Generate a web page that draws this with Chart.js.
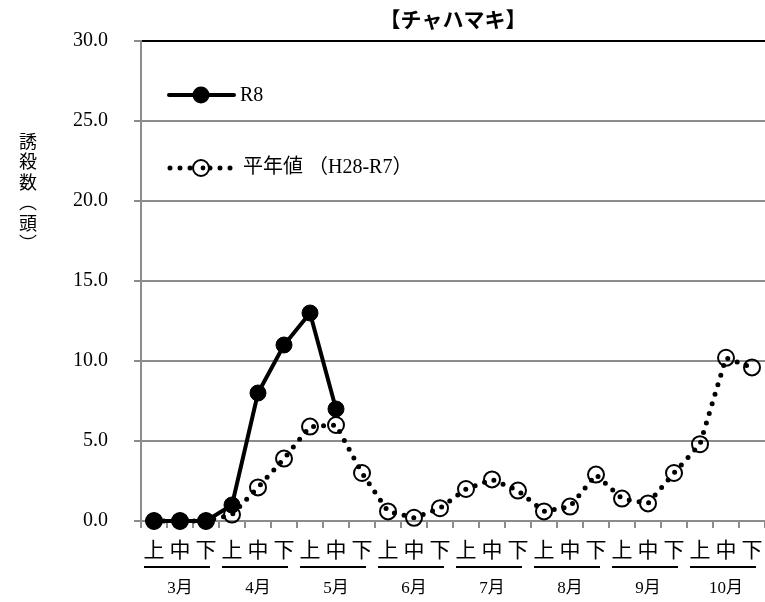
<!DOCTYPE html>
<html>
<head>
<meta charset="utf-8">
<script src="https://cdn.jsdelivr.net/npm/chart.js@4.4.1/dist/chart.umd.min.js"></script>
<style>
  body { margin: 0; background: #fff; }
</style>
</head>
<body>
<canvas id="trapChart" width="765" height="602"></canvas>
<script>
// data
const categories = ['上','中','下','上','中','下','上','中','下','上','中','下',
                    '上','中','下','上','中','下','上','中','下','上','中','下'];
const months = ['3月','4月','5月','6月','7月','8月','9月','10月'];
const r8 = [0, 0, 0, 1.0, 8.0, 11.0, 13.0, 7.0];
const normalYear = [0, 0, 0, 0.4, 2.1, 3.9, 5.9, 6.0, 3.0, 0.6, 0.2, 0.8,
                    2.0, 2.6, 1.9, 0.6, 0.9, 2.9, 1.4, 1.1, 3.0, 4.8, 10.2, 9.6];
const yTicks = [0, 5, 10, 15, 20, 25, 30];
const yTitle = ['誘','殺','数','︵','頭','︶'];

const GRID = '#8c8c8c';
const SERIF = "'Liberation Serif', 'Noto Sans CJK JP', serif";
const JP = "'Noto Sans CJK JP', sans-serif";

const monthLabels = categories.map((c, i) => i % 3 === 1 ? months[(i - 1) / 3] : '');

// category axes: no extra side padding for the outer labels
function noSidePadding(s, h) {
    s.height = h;
    s.paddingLeft = 0;
    s.paddingRight = 0;
}

// legend, vertical y title and month underlines
const decorations = {
    id: 'decorations',
    afterDraw(chart) {
        const c = chart.ctx;
        const xs = chart.scales.x;
        c.save();

        // underline under each 上中下 group
        const catW = (xs.right - xs.left) / categories.length;
        c.strokeStyle = '#000';
        c.lineWidth = 2;
        for (let g = 0; g < months.length; g++) {
            const x0 = xs.left + g * 3 * catW + 3;
            c.beginPath();
            c.moveTo(x0, 567);
            c.lineTo(x0 + 3 * catW - 12, 567);
            c.stroke();
        }

        // y-axis title, stacked characters
        c.fillStyle = '#000';
        c.font = '18px ' + JP;
        c.textAlign = 'center';
        c.textBaseline = 'middle';
        yTitle.forEach((ch, i) => c.fillText(ch, 28, 141 + i * 20.5));

        // legend
        c.strokeStyle = '#000';
        c.lineCap = 'round';
        c.lineWidth = 4;
        c.beginPath();
        c.moveTo(169, 95);
        c.lineTo(234, 95);
        c.stroke();
        c.beginPath();
        c.arc(201, 95, 8.5, 0, Math.PI * 2);
        c.fillStyle = '#000';
        c.fill();

        c.lineWidth = 5;
        c.setLineDash([0, 10]);
        c.beginPath();
        c.moveTo(170, 168);
        c.lineTo(232, 168);
        c.stroke();
        c.setLineDash([]);
        c.lineWidth = 2;
        c.beginPath();
        c.arc(201, 168, 8, 0, Math.PI * 2);
        c.fillStyle = '#fff';
        c.fill();
        c.stroke();
        c.beginPath();
        c.arc(203, 168, 2.4, 0, Math.PI * 2);
        c.fillStyle = '#000';
        c.fill();

        c.font = '20px ' + SERIF;
        c.textAlign = 'left';
        c.fillText('R8', 240, 96);
        c.fillText('平年値 （H28-R7）', 243, 168);
        c.restore();
    }
};

new Chart(document.getElementById('trapChart'), {
    type: 'line',
    data: {
        labels: categories,
        datasets: [{
            label: 'R8',
            data: r8,
            borderColor: '#000',
            borderWidth: 4,
            pointRadius: 8,
            pointBackgroundColor: '#000',
            pointBorderColor: '#000',
            pointBorderWidth: 1,
            tension: 0,
            clip: false
        }, {
            label: '平年値（H28-R7）',
            data: normalYear,
            borderColor: '#000',
            borderWidth: 5,
            borderDash: [0, 10],
            borderCapStyle: 'round',
            pointRadius: 8,
            pointBackgroundColor: 'rgba(255,255,255,0)',
            pointBorderColor: '#000',
            pointBorderWidth: 2,
            tension: 0,
            clip: false
        }]
    },
    options: {
        responsive: false,
        animation: false,
        layout: { padding: 0, autoPadding: false },
        plugins: {
            legend: { display: false },
            tooltip: { enabled: false },
            title: {
                display: true,
                text: '【チャハマキ】',
                fullSize: false,
                color: '#000',
                font: { family: JP, size: 21, weight: 'bold' },
                padding: { top: 6, bottom: 9.8 }
            }
        },
        scales: {
            y: {
                min: 0, max: 30,
                afterFit: s => { s.width = 141; },
                afterBuildTicks: s => { s.ticks = yTicks.map(v => ({ value: v })); },
                ticks: {
                    callback: v => Number(v).toFixed(1),
                    color: '#000',
                    padding: 26,
                    font: { family: SERIF, size: 20 }
                },
                grid: {
                    color: ctx => ctx.tick && ctx.tick.value === 30 ? '#000' : GRID,
                    lineWidth: 2,
                    tickLength: 7,
                    tickColor: GRID
                },
                border: { display: true, color: GRID, width: 2 }
            },
            x: {
                offset: true,
                weight: 0,
                afterFit: s => noSidePadding(s, 46),
                ticks: {
                    autoSkip: false,
                    maxRotation: 0,
                    color: '#000',
                    padding: 8,
                    font: { family: JP, size: 21 }
                },
                grid: {
                    offset: true,
                    drawOnChartArea: false,
                    tickLength: 7,
                    color: GRID,
                    lineWidth: 2
                },
                border: { display: true, color: GRID, width: 2 }
            },
            x2: {
                type: 'category',
                position: 'bottom',
                labels: monthLabels,
                offset: true,
                weight: 1,
                afterFit: s => noSidePadding(s, 35),
                ticks: {
                    autoSkip: false,
                    maxRotation: 0,
                    color: '#000',
                    padding: 11,
                    font: { family: SERIF, size: 17 }
                },
                grid: { display: false, drawTicks: false },
                border: { display: false }
            }
        }
    },
    plugins: [decorations]
});
</script>
</body>
</html>
